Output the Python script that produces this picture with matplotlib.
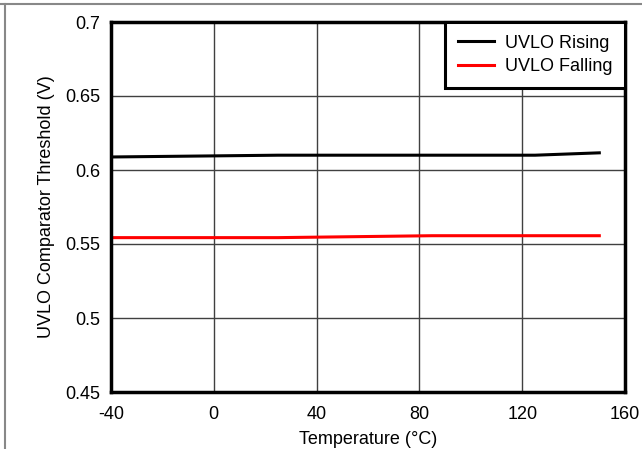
import matplotlib
matplotlib.use("Agg")
import matplotlib.pyplot as plt
from matplotlib.lines import Line2D

plt.rcParams['font.family'] = ['Liberation Sans', 'DejaVu Sans']
plt.rcParams['axes.unicode_minus'] = False

# UVLO comparator thresholds vs. temperature
temp_c = [-40, 25, 85, 125, 150]
uvlo_rising = [0.6088, 0.6100, 0.6100, 0.6100, 0.6116]
uvlo_falling = [0.5543, 0.5543, 0.5556, 0.5556, 0.5556]

x_ticks = [-40, 0, 40, 80, 120, 160]
y_ticks = [0.45, 0.5, 0.55, 0.6, 0.65, 0.7]
y_tick_labels = ["0.45", "0.5", "0.55", "0.6", "0.65", "0.7"]

fig = plt.figure(figsize=(6.42, 4.49), dpi=100)
ax = fig.add_axes([111 / 642, 1 - 392 / 449, (625 - 111) / 642, (392 - 22) / 449])

ax.plot(temp_c, uvlo_rising, color="black", lw=2.2, label="UVLO Rising")
ax.plot(temp_c, uvlo_falling, color="#ff0000", lw=2.2, label="UVLO Falling")

ax.set_xlim(-40, 160)
ax.set_ylim(0.45, 0.7)
ax.set_xticks(x_ticks)
ax.set_yticks(y_ticks)
ax.set_yticklabels(y_tick_labels)
ax.tick_params(axis="y", length=0, labelsize=13, pad=8)
ax.tick_params(axis="x", length=0, labelsize=13, pad=10)
ax.grid(True, color="#404040", lw=1.0)
ax.set_axisbelow(True)
for s in ax.spines.values():
    s.set_linewidth(2.5)
    s.set_color("black")

ax.set_xlabel("Temperature (°C)", fontsize=13, labelpad=6)
ax.set_ylabel("UVLO Comparator Threshold (V)", fontsize=13, labelpad=7)

leg = ax.legend(loc="upper right", fontsize=13, frameon=True, fancybox=False,
                framealpha=1, edgecolor="black", borderaxespad=0,
                handlelength=2.0, handletextpad=0.6, borderpad=0.7,
                labelspacing=0.35)
leg.get_frame().set_linewidth(2.2)

# outer frame lines at top and left
fig.add_artist(Line2D([0, 1], [1 - 3.5 / 449] * 2, color="#888888", lw=1.5,
                      transform=fig.transFigure))
fig.add_artist(Line2D([4.5 / 642] * 2, [0, 1 - 3.5 / 449], color="#888888", lw=1.5,
                      transform=fig.transFigure))

fig.savefig("out.png", dpi=100)
